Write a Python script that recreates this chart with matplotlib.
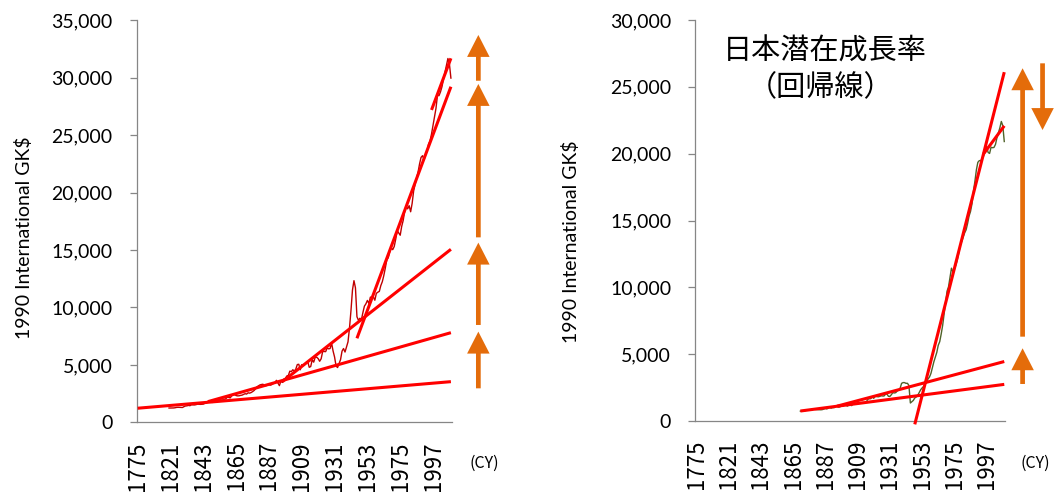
"""Per-capita GDP (1990 GK$) for the US and Japan with piecewise regression lines.

Arrows on the right of each panel mark the step between successive trend levels.
Writes out.png.
"""

import matplotlib
matplotlib.use("Agg")
import matplotlib.pyplot as plt
from matplotlib.patches import FancyArrowPatch
from matplotlib.ticker import FuncFormatter

# category axis (one slot per entry): 1775, then every year 1800-2009
CATS = [1775] + list(range(1800, 2010))
TICK_LABELS = ["1775", "1821", "1843", "1865", "1887", "1909", "1931", "1953", "1975", "1997"]

US_START = 1820
us_gdp = [
    1257, 1260, 1268, 1263, 1279, 1311, 1323, 1315, 1316, 1304,
    1376, 1435, 1449, 1486, 1459, 1533, 1526, 1524, 1548, 1588,
    1588, 1575, 1587, 1597, 1656, 1675, 1760, 1786, 1787, 1741,
    1849, 1871, 1968, 2029, 2020, 2043, 2034, 2021, 2057, 2183,
    2178, 2141, 2311, 2413, 2422, 2339, 2314, 2321, 2358, 2379,
    2445, 2503, 2469, 2581, 2552, 2599, 2681, 2776, 2918, 3109,
    3184, 3268, 3303, 3325, 3204, 3196, 3270, 3278, 3246, 3300,
    3392, 3453, 3667, 3431, 3205, 3591, 3482, 3781, 3837, 4045,
    4091, 4464, 4421, 4584, 4470, 4642, 5036, 5062, 4583, 5031,
    4964, 5046, 5201, 5301, 4799, 4864, 5459, 5248, 5659, 5680,
    5552, 5323, 5540, 6164, 6174, 6161, 6466, 6404, 6429, 6899,
    6213, 5691, 4908, 4777, 5114, 5467, 6204, 6430, 6126, 6561,
    7010, 8206, 9741, 11518, 12333, 11709, 9197, 8886, 9065, 8944,
    9561, 10116, 10316, 10613, 10359, 10897, 10914, 10920, 10631, 11230,
    11328, 11402, 11905, 12242, 12773, 13419, 14134, 14330, 14863, 15179,
    15030, 15304, 15944, 16689, 16491, 16284, 17052, 17567, 18373, 18789,
    18577, 18856, 18325, 19048, 20123, 20717, 21236, 21788, 22499, 23059,
    23201, 22849, 23298, 23616, 24213, 24484, 25087, 25840, 26540, 27327,
    28467, 28420, 28744, 29192, 29851, 30442, 30993, 31655, 31178, 29950,
]

JP_START = 1870
jp_gdp = [
    737, 741, 749, 768, 798, 801, 826, 815, 851, 896,
    863, 855, 850, 838, 838, 853, 896, 933, 904, 949,
    1012, 961, 1004, 999, 1085, 1135, 1041, 1051, 1218, 1123,
    1180, 1201, 1117, 1179, 1183, 1153, 1313, 1317, 1322, 1309,
    1304, 1356, 1384, 1387, 1327, 1430, 1630, 1665, 1668, 1827,
    1696, 1860, 1831, 1809, 1836, 1885, 1872, 1870, 1992, 2026,
    1850, 1837, 1962, 2122, 2098, 2120, 2244, 2315, 2449, 2816,
    2874, 2873, 2818, 2822, 2659, 1346, 1444, 1541, 1725, 1800,
    1921, 2126, 2336, 2474, 2582, 2771, 2948, 3136, 3289, 3554,
    3986, 4426, 4777, 5129, 5668, 5934, 6506, 7152, 7983, 8874,
    9714, 10040, 10734, 11434, 11145, 11344, 11669, 12064, 12585, 13163,
    13428, 13754, 14078, 14307, 14773, 15331, 15679, 16251, 17185, 17943,
    18789, 19355, 19482, 19478, 19637, 19849, 20311, 20537, 20089, 20019,
    20481, 20446, 20468, 20690, 21183, 21573, 21935, 22410, 22100, 20910,
]

# regression lines, start/end year and fitted value at each end
us_trend_year0 = [1775, 1846, 1896, 1946, 1996]
us_trend_val0 = [1240, 1810, 3550, 7320, 27180]
us_trend_year1 = [2009, 2009, 2009, 2009, 2009]
us_trend_val1 = [3550, 7810, 15060, 29200, 31670]

jp_trend_year0 = [1870, 1895, 1948, 1995]
jp_trend_val0 = [747, 1110, -250, 20000]
jp_trend_year1 = [2009, 2009, 2009, 2009]
jp_trend_val1 = [2740, 4450, 26100, 22080]

# level shifts between trends
us_shift_from = [2970, 8480, 16100, 29720]
us_shift_to = [7900, 15640, 29440, 33700]
jp_shift_from = [2770, 6310, 26760]
jp_shift_to = [5440, 26390, 21770]

RED = "#FF0000"
ORANGE = "#E46C0A"
AXIS = "#868686"
JP_FONT = ["Noto Sans CJK JP", "DejaVu Sans"]


def pos(year):
    return CATS.index(year)


def style_axis(ax, ymax):
    ax.set_xlim(-0.5, len(CATS) - 0.5)
    ax.set_ylim(0, ymax)
    ax.set_yticks(range(0, ymax + 1, 5000))
    ax.yaxis.set_major_formatter(FuncFormatter(lambda v, _: f"{v:,.0f}"))
    ax.set_xticks([pos(int(t)) for t in TICK_LABELS])
    ax.set_xticklabels(TICK_LABELS, rotation=90, va="top", family=JP_FONT, fontsize=16)
    for s in ("top", "right"):
        ax.spines[s].set_visible(False)
    for s in ("left", "bottom"):
        ax.spines[s].set_color(AXIS)
        ax.spines[s].set_linewidth(0.9)
    ax.tick_params(axis="x", length=0, pad=13.5)
    ax.tick_params(axis="y", length=5, width=0.9, color=AXIS, pad=12.5, labelsize=14)
    for lab in ax.get_yticklabels():
        lab.set_family("Lato")


def shift_arrow(ax, x, y0, y1):
    a = FancyArrowPatch((x, y0), (x, y1),
                        arrowstyle="simple,head_length=15.8,head_width=16.2,tail_width=3.4",
                        mutation_scale=1, color=ORANGE, lw=0, shrinkA=0, shrinkB=0,
                        clip_on=False, transform=ax.transData)
    ax.add_patch(a)


def panel(ax, start, gdp, color, y0s, v0s, y1s, v1s, ymax):
    xs = [pos(y) for y in range(start, start + len(gdp))]
    ax.plot(xs, gdp, color=color, lw=1.0, zorder=2)
    for ya, va, yb, vb in zip(y0s, v0s, y1s, v1s):
        ax.plot([pos(ya), pos(yb)], [va, vb], color=RED, lw=2.2,
                solid_capstyle="butt", clip_on=False, zorder=3)
    style_axis(ax, ymax)


def main():
    fig = plt.figure(figsize=(10.56, 4.92), dpi=100)
    axL = fig.add_axes([0.1297, 0.1413, 0.298, 0.818])
    axR = fig.add_axes([0.6586, 0.1443, 0.2931, 0.815])

    panel(axL, US_START, us_gdp, "#C00000",
          us_trend_year0, us_trend_val0, us_trend_year1, us_trend_val1, 35000)
    for a, b in zip(us_shift_from, us_shift_to):
        shift_arrow(axL, 228.4, a, b)

    panel(axR, JP_START, jp_gdp, "#4F6228",
          jp_trend_year0, jp_trend_val0, jp_trend_year1, jp_trend_val1, 30000)
    for a, b in zip(jp_shift_from[:2], jp_shift_to[:2]):
        shift_arrow(axR, 222.5, a, b)
    shift_arrow(axR, 236.1, jp_shift_from[2], jp_shift_to[2])

    lab = "1990 International GK$"
    fig.text(24 / 1056, 1 - 238 / 492, lab, rotation=90, ha="center", va="center",
             family="Lato", fontsize=14)
    fig.text(571 / 1056, 1 - 242 / 492, lab, rotation=90, ha="center", va="center",
             family="Lato", fontsize=14)

    for x in (484, 1035):
        fig.text(x / 1056, 1 - 463 / 492, "(CY)", ha="center", va="center",
                 family=JP_FONT, fontsize=11.5)

    fig.text(825 / 1056, 1 - 52 / 492, "日本潜在成長率", ha="center", va="center",
             family=JP_FONT, fontsize=21)
    fig.text(821 / 1056, 1 - 88 / 492, "（回帰線）", ha="center", va="center",
             family=JP_FONT, fontsize=21)

    fig.savefig("out.png", dpi=100)


if __name__ == "__main__":
    main()
